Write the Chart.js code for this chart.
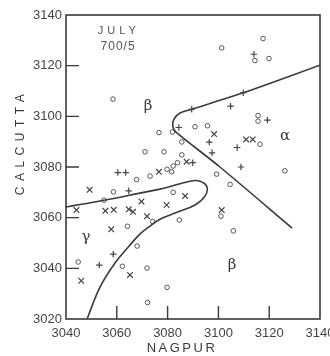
<!DOCTYPE html>
<html>
<head>
<meta charset="utf-8">
<script src="https://cdn.jsdelivr.net/npm/chart.js@4.4.1/dist/chart.umd.min.js"></script>
<style>
  html, body { margin: 0; padding: 0; background: #fff; }
</style>
</head>
<body>
<canvas id="chart" width="330" height="356"></canvas>
<script>
// axis ticks
const xTicks = [3040, 3060, 3080, 3100, 3120, 3140];
const yTicks = [3020, 3040, 3060, 3080, 3100, 3120, 3140];

// observations, [nagpur, calcutta]
const circles = [
  [3058.5, 3106.8], [3101.3, 3127.0], [3117.6, 3130.7], [3119.9, 3122.8],
  [3114.4, 3122.0], [3115.6, 3100.3], [3115.6, 3098.1], [3116.4, 3089.0],
  [3126.2, 3078.5], [3104.6, 3073.1], [3081.9, 3093.8], [3090.8, 3095.9],
  [3095.7, 3096.3], [3085.6, 3089.9], [3076.6, 3093.6], [3071.1, 3086.0],
  [3078.6, 3086.0], [3085.6, 3084.8], [3083.9, 3081.7], [3082.2, 3080.4],
  [3079.8, 3079.1], [3081.6, 3078.1], [3073.1, 3076.4], [3099.3, 3077.2],
  [3067.8, 3075.0], [3058.7, 3070.2], [3055.0, 3066.9], [3074.1, 3058.5],
  [3082.2, 3070.0], [3084.6, 3059.1], [3101.0, 3060.6], [3105.9, 3054.8],
  [3064.2, 3056.6], [3068.0, 3048.8], [3044.8, 3042.5], [3062.2, 3040.8],
  [3071.9, 3040.1], [3072.1, 3026.5], [3079.8, 3032.5]
];
const pluses = [
  [3114.0, 3124.5], [3104.8, 3104.0], [3109.8, 3109.3], [3089.5, 3102.8],
  [3119.3, 3098.5], [3107.4, 3087.7], [3108.9, 3080.0], [3084.4, 3095.6],
  [3096.4, 3089.8], [3097.5, 3085.6], [3089.9, 3081.7], [3060.4, 3077.8],
  [3063.5, 3077.8], [3064.7, 3070.6], [3058.6, 3045.6], [3053.1, 3041.3]
];
const crosses = [
  [3098.3, 3093.0], [3110.9, 3090.9], [3113.5, 3090.9], [3087.5, 3082.1],
  [3076.6, 3078.1], [3049.3, 3071.0], [3044.1, 3063.0], [3055.5, 3062.7],
  [3058.8, 3063.1], [3064.7, 3063.3], [3066.4, 3062.3], [3069.7, 3066.4],
  [3071.9, 3060.6], [3057.8, 3055.4], [3079.6, 3065.0], [3086.9, 3068.6],
  [3101.3, 3063.0], [3065.2, 3037.4], [3046.0, 3035.1]
];

// hand drawn boundaries
const alphaBoundary = [
  [3140.0, 3120.2], [3109.7, 3109.3], [3089.5, 3102.8], [3084.9, 3101.3],
  [3082.5, 3098.9], [3082.1, 3095.7], [3083.3, 3093.8], [3100.6, 3080.0],
  [3129.0, 3055.9]
];
const gammaBoundary = [
  [3040.0, 3064.2], [3055.0, 3066.9], [3069.1, 3069.7], [3079.0, 3071.7],
  [3088.8, 3074.4], [3092.8, 3074.4], [3095.5, 3072.1], [3094.7, 3068.5],
  [3090.8, 3065.0], [3082.9, 3061.8], [3077.0, 3059.4], [3073.1, 3056.7],
  [3069.1, 3053.5], [3065.2, 3049.2], [3059.3, 3042.1], [3053.4, 3032.6],
  [3048.3, 3020.0]
];

// region letters and the note
const regionLabels = [
  ['β', 3072.3, 3104.0], ['α', 3126.2, 3092.2],
  ['γ', 3047.9, 3052.3], ['β', 3105.4, 3041.3]
];
const noteLines = [['JULY', 3060.0, 3133.6], ['700/5', 3060.5, 3127.4]];

const toXY = arr => arr.map(p => ({ x: p[0], y: p[1] }));
const ink = '#3a3a3a';

const paperMarks = {
  id: 'paperMarks',
  afterDraw(chart) {
    const { ctx, chartArea: a, scales: { x, y } } = chart;
    ctx.save();
    ctx.strokeStyle = ink;

    // frame
    ctx.lineWidth = 1.6;
    ctx.strokeRect(a.left, a.top, a.right - a.left, a.bottom - a.top);

    // inward tick marks
    ctx.lineWidth = 1.4;
    ctx.beginPath();
    xTicks.slice(1, -1).forEach(v => {
      const px = x.getPixelForValue(v);
      ctx.moveTo(px, a.bottom);
      ctx.lineTo(px, a.bottom - 13);
    });
    yTicks.slice(1, -1).forEach(v => {
      const py = y.getPixelForValue(v);
      ctx.moveTo(a.left, py);
      ctx.lineTo(a.left + 13, py);
    });
    ctx.stroke();

    ctx.fillStyle = ink;
    ctx.textAlign = 'center';
    ctx.textBaseline = 'middle';

    regionLabels.forEach(([t, vx, vy]) => {
      ctx.font = '15px "DejaVu Serif"';
      ctx.fillText(t, x.getPixelForValue(vx), y.getPixelForValue(vy));
    });

    ctx.fillStyle = '#555';
    ctx.font = '11px "Liberation Sans"';
    ctx.letterSpacing = '4px';
    ctx.fillText(noteLines[0][0], x.getPixelForValue(noteLines[0][1]) + 2, y.getPixelForValue(noteLines[0][2]));
    ctx.font = '12px "Liberation Sans"';
    ctx.letterSpacing = '1px';
    ctx.fillText(noteLines[1][0], x.getPixelForValue(noteLines[1][1]), y.getPixelForValue(noteLines[1][2]));

    // axis titles
    ctx.fillStyle = ink;
    ctx.font = '13px "Liberation Sans"';
    ctx.letterSpacing = '2.5px';
    ctx.fillText('NAGPUR', 182, 348);
    ctx.save();
    ctx.translate(21, 145);
    ctx.rotate(-Math.PI / 2);
    ctx.font = '12px "Liberation Sans"';
    ctx.letterSpacing = '5.5px';
    ctx.fillText('CALCUTTA', 3, 0);
    ctx.restore();

    ctx.restore();
  }
};

const chart = document.querySelector('#chart').getContext('2d');

new Chart(chart, {
  type: 'scatter',
  data: {
    datasets: [
      {
        label: 'alpha boundary',
        data: toXY(alphaBoundary),
        showLine: true,
        borderColor: ink,
        borderWidth: 1.6,
        pointRadius: 0,
        tension: 0.3,
        fill: false
      },
      {
        label: 'gamma boundary',
        data: toXY(gammaBoundary),
        showLine: true,
        borderColor: ink,
        borderWidth: 1.6,
        pointRadius: 0,
        tension: 0.4,
        fill: false
      },
      {
        label: 'o',
        data: toXY(circles),
        pointStyle: 'circle',
        pointRadius: 2.3,
        backgroundColor: 'rgba(0,0,0,0)',
        borderColor: '#555',
        borderWidth: 1
      },
      {
        label: '+',
        data: toXY(pluses),
        pointStyle: 'cross',
        pointRadius: 3.2,
        borderColor: '#444',
        borderWidth: 1.2
      },
      {
        label: 'x',
        data: toXY(crosses),
        pointStyle: 'crossRot',
        pointRadius: 4,
        borderColor: '#444',
        borderWidth: 1.2
      }
    ]
  },
  options: {
    responsive: false,
    animation: false,
    layout: { padding: { left: 0, right: 10, top: 15, bottom: 0 } },
    plugins: {
      legend: { display: false },
      tooltip: { enabled: false }
    },
    scales: {
      x: {
        type: 'linear',
        min: 3040,
        max: 3140,
        afterBuildTicks: s => { s.ticks = xTicks.map(v => ({ value: v })); },
        afterFit: s => { s.height = 37; s.paddingLeft = 0; s.paddingRight = 0; },
        grid: { display: false, drawTicks: false },
        border: { display: false },
        ticks: {
          color: '#444',
          padding: 7,
          maxRotation: 0,
          font: { family: 'Liberation Sans', size: 13 },
          callback: v => String(v)
        }
      },
      y: {
        type: 'linear',
        min: 3020,
        max: 3140,
        afterBuildTicks: s => { s.ticks = yTicks.map(v => ({ value: v })); },
        afterFit: s => { s.width = 66; s.paddingTop = 0; s.paddingBottom = 0; },
        grid: { display: false, drawTicks: false },
        border: { display: false },
        ticks: {
          color: '#444',
          padding: 4,
          font: { family: 'Liberation Sans', size: 13 },
          callback: v => String(v)
        }
      }
    }
  },
  plugins: [paperMarks]
});
</script>
</body>
</html>
